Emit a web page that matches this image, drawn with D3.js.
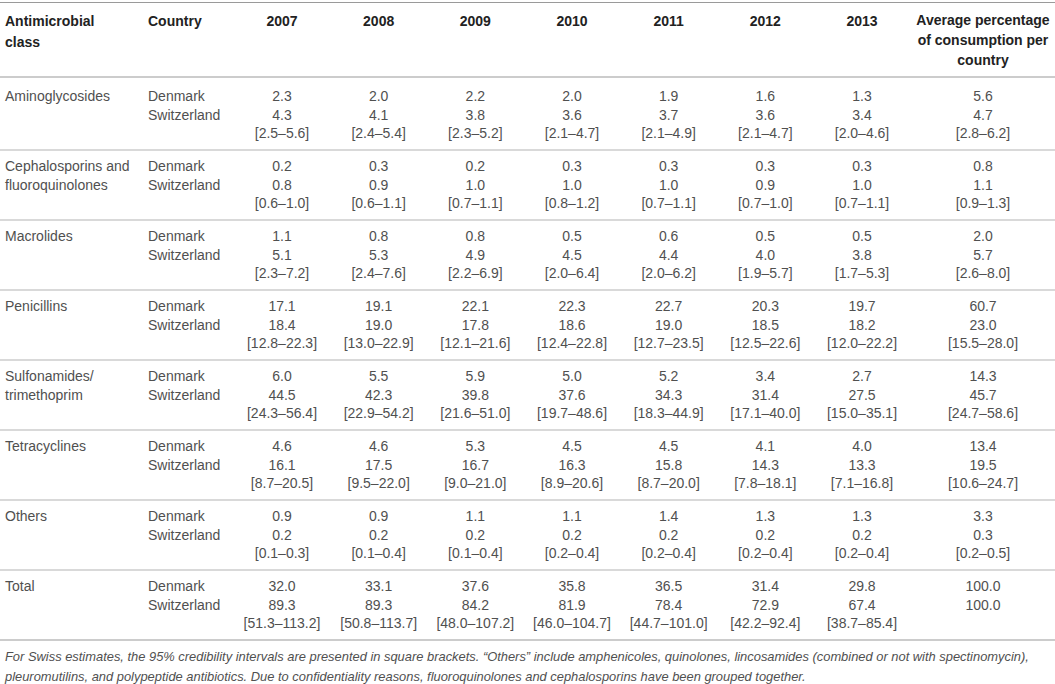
<!DOCTYPE html>
<html>
<head>
<meta charset="utf-8">
<script src="https://cdn.jsdelivr.net/npm/d3@7"></script>
<style>
  body { margin: 0; background: #fff; }
  svg { display: block; font-family: "Liberation Sans", Arial, sans-serif; }
</style>
</head>
<body>
<div id="table"></div>
<script>
// table data
const years = [2007, 2008, 2009, 2010, 2011, 2012, 2013];
const classes = [
  ["Aminoglycosides"],
  ["Cephalosporins and", "fluoroquinolones"],
  ["Macrolides"],
  ["Penicillins"],
  ["Sulfonamides/", "trimethoprim"],
  ["Tetracyclines"],
  ["Others"],
  ["Total"]
];
const denmark = [
  [2.3, 2.0, 2.2, 2.0, 1.9, 1.6, 1.3],
  [0.2, 0.3, 0.2, 0.3, 0.3, 0.3, 0.3],
  [1.1, 0.8, 0.8, 0.5, 0.6, 0.5, 0.5],
  [17.1, 19.1, 22.1, 22.3, 22.7, 20.3, 19.7],
  [6.0, 5.5, 5.9, 5.0, 5.2, 3.4, 2.7],
  [4.6, 4.6, 5.3, 4.5, 4.5, 4.1, 4.0],
  [0.9, 0.9, 1.1, 1.1, 1.4, 1.3, 1.3],
  [32.0, 33.1, 37.6, 35.8, 36.5, 31.4, 29.8]
];
const switzerland = [
  [4.3, 4.1, 3.8, 3.6, 3.7, 3.6, 3.4],
  [0.8, 0.9, 1.0, 1.0, 1.0, 0.9, 1.0],
  [5.1, 5.3, 4.9, 4.5, 4.4, 4.0, 3.8],
  [18.4, 19.0, 17.8, 18.6, 19.0, 18.5, 18.2],
  [44.5, 42.3, 39.8, 37.6, 34.3, 31.4, 27.5],
  [16.1, 17.5, 16.7, 16.3, 15.8, 14.3, 13.3],
  [0.2, 0.2, 0.2, 0.2, 0.2, 0.2, 0.2],
  [89.3, 89.3, 84.2, 81.9, 78.4, 72.9, 67.4]
];
const swissLow = [
  [2.5, 2.4, 2.3, 2.1, 2.1, 2.1, 2.0],
  [0.6, 0.6, 0.7, 0.8, 0.7, 0.7, 0.7],
  [2.3, 2.4, 2.2, 2.0, 2.0, 1.9, 1.7],
  [12.8, 13.0, 12.1, 12.4, 12.7, 12.5, 12.0],
  [24.3, 22.9, 21.6, 19.7, 18.3, 17.1, 15.0],
  [8.7, 9.5, 9.0, 8.9, 8.7, 7.8, 7.1],
  [0.1, 0.1, 0.1, 0.2, 0.2, 0.2, 0.2],
  [51.3, 50.8, 48.0, 46.0, 44.7, 42.2, 38.7]
];
const swissHigh = [
  [5.6, 5.4, 5.2, 4.7, 4.9, 4.7, 4.6],
  [1.0, 1.1, 1.1, 1.2, 1.1, 1.0, 1.1],
  [7.2, 7.6, 6.9, 6.4, 6.2, 5.7, 5.3],
  [22.3, 22.9, 21.6, 22.8, 23.5, 22.6, 22.2],
  [56.4, 54.2, 51.0, 48.6, 44.9, 40.0, 35.1],
  [20.5, 22.0, 21.0, 20.6, 20.0, 18.1, 16.8],
  [0.3, 0.4, 0.4, 0.4, 0.4, 0.4, 0.4],
  [113.2, 113.7, 107.2, 104.7, 101.0, 92.4, 85.4]
];
// average percentage of consumption per country
const denmarkAvg = [5.6, 0.8, 2.0, 60.7, 14.3, 13.4, 3.3, 100.0];
const swissAvg = [4.7, 1.1, 5.7, 23.0, 45.7, 19.5, 0.3, 100.0];
const swissAvgLow = [2.8, 0.9, 2.6, 15.5, 24.7, 10.6, 0.2, null];
const swissAvgHigh = [6.2, 1.3, 8.0, 28.0, 58.6, 24.7, 0.5, null];

const footnote = [
  "For Swiss estimates, the 95% credibility intervals are presented in square brackets. \u201cOthers\u201d include amphenicoles, quinolones, lincosamides (combined or not with spectinomycin),",
  "pleuromutilins, and polypeptide antibiotics. Due to confidentiality reasons, fluoroquinolones and cephalosporins have been grouped together."
];

// set up
const width = 1055;
const height = 684;
const fmt = d3.format(".1f");
const textColor = "#505050";

const svg = d3.select("#table")
  .append("svg")
  .attr("width", width)
  .attr("height", height);

const x = d3.scaleLinear().domain([2007, 2013]).range([282, 862]);
const xAvg = 983;
const y = d3.scaleLinear().domain([0, 7]).range([96, 586]); // centre of the Denmark line per group
const lineGap = 18.5;

// rules
const rule = (yy, c) => svg.append("line")
  .attr("x1", 0).attr("x2", width)
  .attr("y1", yy).attr("y2", yy)
  .attr("stroke", c).attr("stroke-width", 1.2);

rule(2.5, "#9a9a9a");
rule(77, "#9a9a9a");
d3.range(7).forEach(i => rule(y(i) + 54, "#b4b4b4"));
rule(y(7) + 54, "#9a9a9a");

// header
const head = svg.append("g")
  .attr("font-weight", "bold")
  .attr("font-size", 14)
  .attr("fill", "#222");

head.append("text").attr("x", 5).attr("y", 26).text("Antimicrobial");
head.append("text").attr("x", 5).attr("y", 47).text("class");
head.append("text").attr("x", 148).attr("y", 26).text("Country");

head.selectAll(".yr")
  .data(years)
  .join("text")
    .attr("class", "yr")
    .attr("x", d => x(d))
    .attr("y", 26)
    .attr("text-anchor", "middle")
    .text(d => d);

head.selectAll(".avg")
  .data(["Average percentage", "of consumption per", "country"])
  .join("text")
    .attr("class", "avg")
    .attr("x", xAvg)
    .attr("y", (d, i) => 25 + i * 20)
    .attr("text-anchor", "middle")
    .text(d => d);

// body
const body = svg.append("g")
  .attr("font-size", 14)
  .attr("fill", textColor);

const groups = body.selectAll("g")
  .data(classes.map((c, i) => ({ i, c })))
  .join("g")
    .attr("transform", d => `translate(0,${y(d.i) + 5})`);

groups.selectAll(".cls")
  .data(d => d.c)
  .join("text")
    .attr("class", "cls")
    .attr("x", 5)
    .attr("y", (d, j) => j * lineGap)
    .text(d => d);

groups.selectAll(".ctry")
  .data(["Denmark", "Switzerland"])
  .join("text")
    .attr("class", "ctry")
    .attr("x", 148)
    .attr("y", (d, j) => j * lineGap)
    .text(d => d);

groups.each(function(d) {
  const g = d3.select(this);
  const i = d.i;
  g.selectAll(".dk")
    .data(years)
    .join("text")
      .attr("x", yr => x(yr))
      .attr("y", 0)
      .attr("text-anchor", "middle")
      .text((yr, k) => fmt(denmark[i][k]));
  g.selectAll(".ch")
    .data(years)
    .join("text")
      .attr("x", yr => x(yr))
      .attr("y", lineGap)
      .attr("text-anchor", "middle")
      .text((yr, k) => fmt(switzerland[i][k]));
  g.selectAll(".ci")
    .data(years)
    .join("text")
      .attr("x", yr => x(yr))
      .attr("y", lineGap * 2)
      .attr("text-anchor", "middle")
      .text((yr, k) => `[${fmt(swissLow[i][k])}\u2013${fmt(swissHigh[i][k])}]`);

  const avgLines = [fmt(denmarkAvg[i]), fmt(swissAvg[i])];
  if (swissAvgLow[i] != null) avgLines.push(`[${fmt(swissAvgLow[i])}\u2013${fmt(swissAvgHigh[i])}]`);
  g.append("g").selectAll("text")
    .data(avgLines)
    .join("text")
      .attr("x", xAvg)
      .attr("y", (t, j) => j * lineGap)
      .attr("text-anchor", "middle")
      .text(t => t);
});

// footnote
svg.append("g")
  .attr("font-size", 12.9)
  .attr("font-style", "italic")
  .attr("fill", textColor)
  .selectAll("text")
  .data(footnote)
  .join("text")
    .attr("x", 5)
    .attr("y", (d, i) => 661 + i * 20)
    .text(d => d);
</script>
</body>
</html>
